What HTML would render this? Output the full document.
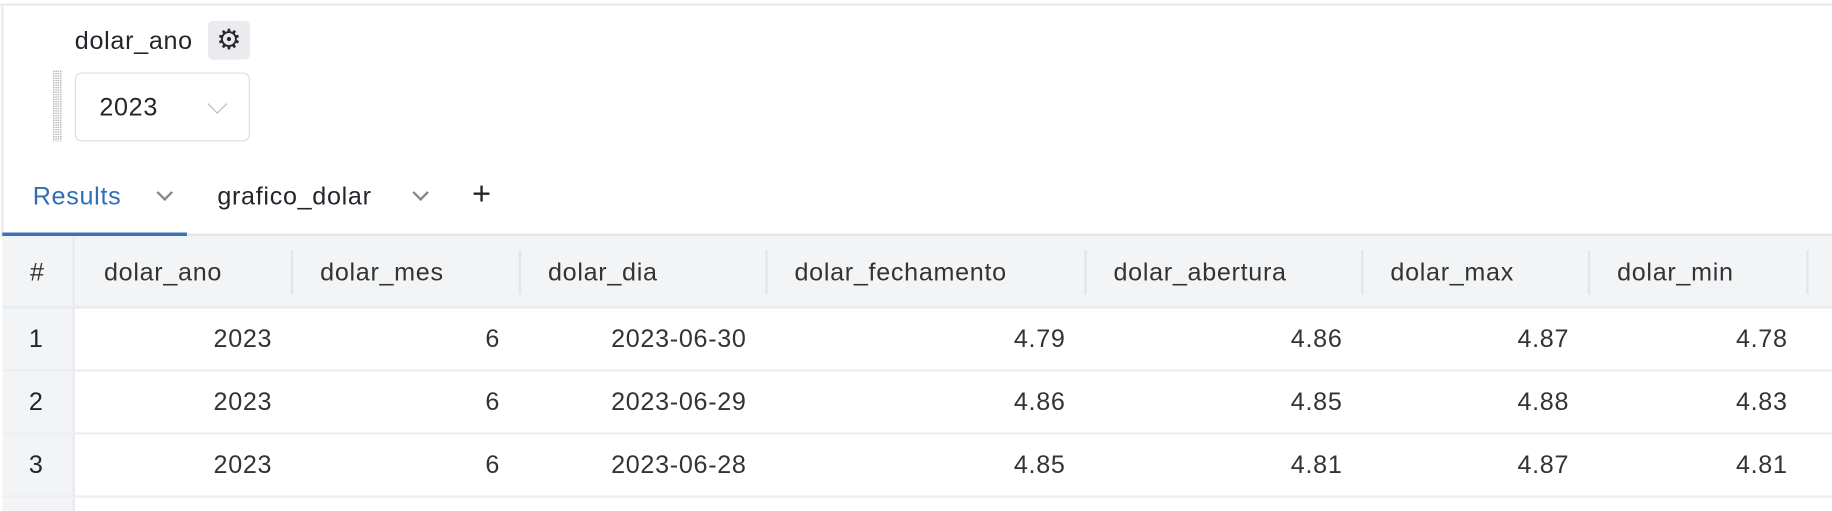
<!DOCTYPE html>
<html><head><meta charset="utf-8"><style>
html,body{margin:0;padding:0;width:1832px;height:510px;overflow:hidden;background:#fff}
#w{position:absolute;left:0;top:0;width:1568px;height:437px;transform:scale(1.1684);transform-origin:0 0;font-family:"Liberation Sans",Arial,sans-serif;color:#22262a}
.a{position:absolute}
.t{font-size:21.5px;letter-spacing:0.6px;white-space:nowrap;line-height:1}
.chev{position:absolute;width:8px;height:8px;border-right:2px solid #8a8585;border-bottom:2px solid #8a8585;transform:rotate(45deg)}
</style></head><body>
<div id="w">
<div class="a" style="left:0;top:3px;width:1568px;height:2px;background:#e8ecef"></div>
<div class="a" style="left:1px;top:3px;width:2px;height:200px;background:#e8ecef"></div>
<div class="a t" style="left:64px;top:25px">dolar_ano</div>
<div class="a" style="left:178px;top:18px;width:36px;height:33px;background:#e9ebee;border-radius:4px;text-align:center;line-height:33px;font-size:24px;color:#2a2a2a;font-family:'DejaVu Sans',sans-serif">⚙</div>
<div class="a" style="left:45px;top:60px;width:8px;height:61px;background-image:radial-gradient(#b5b5b5 0.7px,transparent 0.8px);background-size:2px 2px"></div>
<div class="a" style="left:64px;top:62px;width:148px;height:57px;border:1px solid #ddd;border-radius:6px">
 <div class="a t" style="left:20px;top:19px">2023</div>
 <div class="chev" style="left:115px;top:20px;width:11px;height:11px;border-color:#bbb;border-width:0 1px 1px 0"></div>
</div>
<div class="a t" style="left:28px;top:158px;color:#2f6db5">Results</div>
<div class="chev" style="left:136px;top:160px"></div>
<div class="a t" style="left:186px;top:158px">grafico_dolar</div>
<div class="chev" style="left:355px;top:160px"></div>
<div class="a" style="left:404px;top:152px;font-size:28px;line-height:28px;font-weight:300">+</div>
<div class="a" style="left:2px;top:200px;width:1566px;height:2px;background:#e3e5e8"></div>
<div class="a" style="left:2px;top:199px;width:158px;height:3px;background:#3a72b5"></div>
<div class="a" style="left:2px;top:202px;width:1566px;height:60px;background:#f3f4f6;border-bottom:2px solid #e8eaed"></div>
<div class="a" style="left:2px;top:264px;width:60px;height:173px;background:#f3f4f6"></div>
<div class="a" style="left:62px;top:202px;width:2px;height:235px;background:#e8eaed"></div>
</div>
<script>
const headers=["dolar_ano","dolar_mes","dolar_dia","dolar_fechamento","dolar_abertura","dolar_max","dolar_min"];
const rows=[["2023","6","2023-06-30","4.79","4.86","4.87","4.78"],["2023","6","2023-06-29","4.86","4.85","4.88","4.83"],["2023","6","2023-06-28","4.85","4.81","4.87","4.81"]];
const colLeft=[64,249,444,655,928,1165,1359,1546];
const w=document.getElementById('w');
function add(style,txt,name,inter){const d=document.createElement('div');d.className='a t';d.style.cssText=style;d.textContent=txt;


w.appendChild(d);return d;}
add('left:22px;top:223px;width:20px;text-align:center;color:#333','#','index-header','false');
headers.forEach((h,i)=>{
 add('left:'+(colLeft[i]+25)+'px;top:223px;color:#333',h,'header-'+h,'true');
 const dv=document.createElement('div');dv.className='a';dv.style.cssText='left:'+colLeft[i+1]+'px;top:214px;width:2px;height:38px;background:#e3e5e8';
 
 
 w.appendChild(dv);
});
rows.forEach((r,ri)=>{
 const top=264+ri*54;
 add('left:2px;width:58px;text-align:center;top:'+(top+16)+'px',String(ri+1),'row-index-'+(ri+1),'false');
 r.forEach((v,ci)=>{
  const right=colLeft[ci+1]-16;
  add('left:'+(right-200)+'px;width:200px;text-align:right;top:'+(top+16)+'px;color:#333',v,'cell-'+headers[ci]+'-'+(ri+1),'false');
 });
 const ln=document.createElement('div');ln.className='a';ln.style.cssText='left:2px;top:'+(top+52)+'px;width:1566px;height:2px;background:#eceef0';
 
 
 w.appendChild(ln);
});
</script>
</body></html>
